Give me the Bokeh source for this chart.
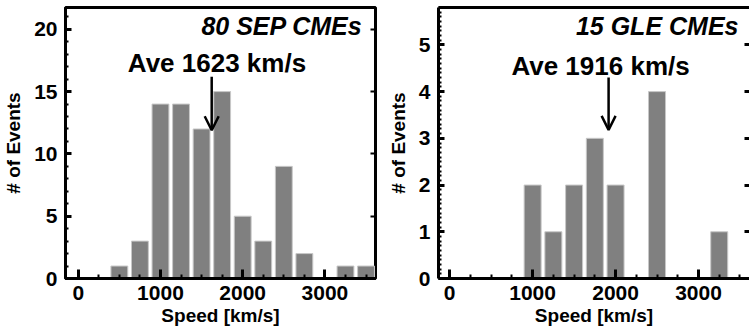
from bokeh.plotting import figure
from bokeh.models import (LinearAxis, SingleIntervalTicker, Range1d, Label, Arrow, OpenHead)
from bokeh.layouts import row
from bokeh.embed import file_html
from bokeh.resources import INLINE

# ---- data ----
bin_centers = [500, 750, 1000, 1250, 1500, 1750, 2000, 2250, 2500, 2750, 3000, 3250, 3500]
sep_counts = [1, 3, 14, 14, 12, 15, 5, 3, 9, 2, 0, 1, 1]
gle_counts = [0, 0, 2, 1, 2, 3, 2, 0, 4, 0, 0, 1, 0]
sep_title = "80 SEP CMEs"
gle_title = "15 GLE CMEs"
sep_mean = 1623
gle_mean = 1916
x_label = "Speed [km/s]"
y_label = "# of Events"

FONT = "Liberation Sans"
BAR_FILL = "#808080"
BAR_EDGE = "#c8c8c8"


def style_axis(ax, tick_in, minor_in, size="21px"):
    ax.major_label_text_font = FONT
    ax.major_label_text_font_style = "bold"
    ax.major_label_text_font_size = size
    ax.major_label_text_color = "black"
    ax.axis_label_text_font = FONT
    ax.axis_label_text_font_style = "bold"
    ax.axis_label_text_font_size = "19px"
    ax.axis_label_text_color = "black"
    ax.major_tick_in = tick_in
    ax.major_tick_out = 0
    ax.minor_tick_in = minor_in
    ax.minor_tick_out = 0
    ax.major_tick_line_width = 3
    ax.minor_tick_line_width = 2
    ax.major_tick_line_color = "black"
    ax.minor_tick_line_color = "black"
    ax.axis_line_width = 3
    ax.axis_line_color = "black"


def hide_labels(ax):
    ax.major_label_text_font_size = "0px"
    ax.major_label_text_color = None
    ax.major_label_standoff = 0


def make_panel(counts, title, mean, y_interval, y_minor, ymax, width, border_left, border_right,
               x_start, x_end, title_xy, ave_xy, arrow_y, right_frame):
    p = figure(width=width, height=333, output_backend="svg", toolbar_location=None,
               x_range=Range1d(x_start, x_end), y_range=Range1d(0, ymax),
               min_border_left=border_left, min_border_right=border_right,
               min_border_top=7, min_border_bottom=55,
               background_fill_color="white", border_fill_color="white")
    p.grid.visible = False
    if right_frame:
        p.outline_line_color = "black"
        p.outline_line_width = 3
    else:
        p.outline_line_color = None

    p.vbar(x=bin_centers, top=counts, bottom=0, width=205,
           fill_color=BAR_FILL, line_color=BAR_EDGE, line_width=1)

    xa = p.xaxis[0]
    xa.ticker = SingleIntervalTicker(interval=1000, num_minor_ticks=4)
    style_axis(xa, 9, 4)
    xa.major_label_standoff = 7
    xa.axis_label = x_label
    xa.axis_label_standoff = 2

    ya = p.yaxis[0]
    ya.ticker = SingleIntervalTicker(interval=y_interval, num_minor_ticks=y_minor)
    style_axis(ya, 6, 3)
    ya.major_label_standoff = 8
    ya.axis_label = y_label
    ya.axis_label_standoff = 7

    ra = LinearAxis(ticker=SingleIntervalTicker(interval=y_interval, num_minor_ticks=0))
    style_axis(ra, 5, 0)
    hide_labels(ra)
    ra.major_tick_line_width = 2 if right_frame else 3
    ra.axis_line_color = None
    p.add_layout(ra, "right")

    if not right_frame:
        ta = LinearAxis(ticker=SingleIntervalTicker(interval=1000, num_minor_ticks=0))
        style_axis(ta, 0, 0)
        hide_labels(ta)
        ta.major_tick_line_color = None
        ta.minor_tick_line_color = None
        p.add_layout(ta, "above")

    p.add_layout(Label(x=title_xy[0], y=title_xy[1], text=title, text_font=FONT,
                       text_font_style="bold italic", text_font_size="25px",
                       text_align="right", text_baseline="middle", text_color="black"))
    p.add_layout(Label(x=ave_xy[0], y=ave_xy[1], text=f"Ave {mean} km/s", text_font=FONT,
                       text_font_style="bold", text_font_size="26px",
                       text_align="center", text_baseline="middle", text_color="black"))
    p.add_layout(Arrow(end=OpenHead(size=14, line_width=2.5, line_color="black"),
                       x_start=mean, y_start=arrow_y[0], x_end=mean, y_end=arrow_y[1],
                       line_width=2.5, line_color="black"))
    return p


p1 = make_panel(sep_counts, sep_title, sep_mean, 5, 5, 21.75, 380, 62, 5,
                -155, 3615, (3458, 20.3), (1687, 17.3), (16.2, 11.9), True)
p2 = make_panel(gle_counts, gle_title, gle_mean, 1, 10, 5.8, 369, 58, 0,
                -135, 3615, (3482, 5.4), (1819, 4.55), (4.3, 3.18), False)

layout = row(p1, p2, spacing=0)
open("out.html", "w").write(file_html(layout, INLINE))
